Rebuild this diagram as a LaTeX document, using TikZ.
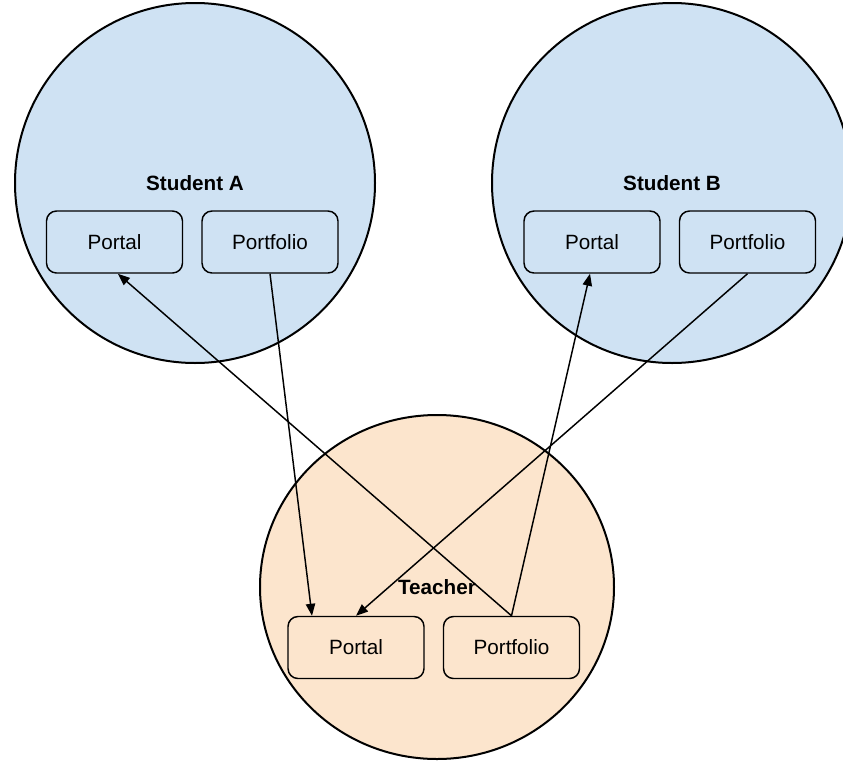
\documentclass[tikz,border=0pt]{standalone}
\usepackage{fontspec}
\setmainfont{Liberation Sans}
\usetikzlibrary{shapes.geometric,arrows.meta}

\definecolor{studentblue}{RGB}{207,226,243}
\definecolor{teacherpeach}{RGB}{252,229,205}

\tikzset{every picture/.style={line width=0.75pt}}
\tikzset{
  group/.style={draw, line width=1.5pt, inner sep=0pt, font=\bfseries\fontsize{15.5}{18}\selectfont},
  appbox/.style={draw, rounded corners=7.5pt, line width=1.1pt, minimum width=102pt, minimum height=46.5pt, font=\fontsize{15.5}{18}\selectfont},
  link/.style={line width=1.1pt, -{Triangle[length=9pt,width=7pt]}}
}

\begin{document}
\begin{tikzpicture}[x=0.75pt,y=0.75pt,yscale=-1,xscale=1]
			\clip (0,0) rectangle (843,761); %set diagram to 843 x 761

			%Shape: Circle [id:studentA]
			\node [group, circle, fill=studentblue, minimum size=270pt] (sa) at (195,183) {Student A};
			%Shape: Circle [id:studentB]
			\node [group, circle, fill=studentblue, minimum size=270pt] (sb) at (672,183) {Student B};
			%Shape: Ellipse [id:teacher]
			\node [group, ellipse, fill=teacherpeach, minimum width=265.5pt, minimum height=258pt] (tch) at (437,587) {Teacher};

			%Shape: Rounded Rect [id:studentA portal]
			\node [appbox] (apo) at (114.5,242) {Portal};
			%Shape: Rounded Rect [id:studentA portfolio]
			\node [appbox] (apf) at (270,242) {Portfolio};
			%Shape: Rounded Rect [id:studentB portal]
			\node [appbox] (bpo) at (592,242) {Portal};
			%Shape: Rounded Rect [id:studentB portfolio]
			\node [appbox] (bpf) at (747.5,242) {Portfolio};
			%Shape: Rounded Rect [id:teacher portal]
			\node [appbox] (tpo) at (356,647.5) {Portal};
			%Shape: Rounded Rect [id:teacher portfolio]
			\node [appbox] (tpf) at (511.5,647.5) {Portfolio};

			%Straight Lines [id:links]
			\draw [link] (tpf.north) -- ([xshift=2.5pt]apo.south);
			\draw [link] (apf.south) -- ([xshift=-33pt]tpo.north);
			\draw [link] (bpf.south) -- (tpo.north);
			\draw [link] (tpf.north) -- ([xshift=-1.5pt]bpo.south);
		\end{tikzpicture}
\end{document}
